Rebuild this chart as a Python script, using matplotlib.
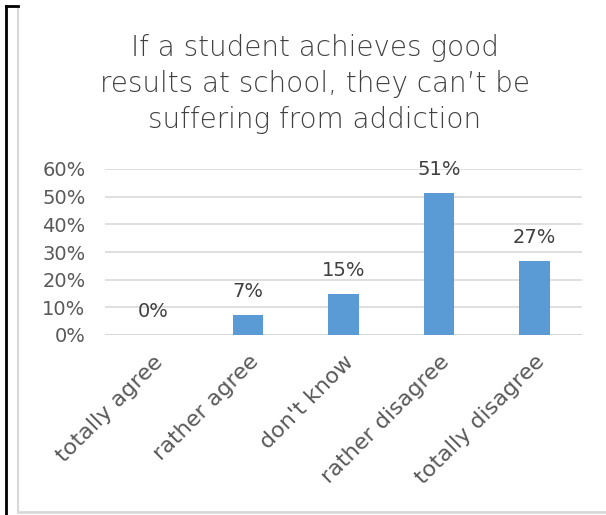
import matplotlib
matplotlib.use("Agg")
import matplotlib.pyplot as plt
from matplotlib.lines import Line2D

categories = ["totally agree", "rather agree", "don't know", "rather disagree", "totally disagree"]
values = [0.0, 7.3, 14.7, 51.2, 26.8]
labels = ["0%", "7%", "15%", "51%", "27%"]
yticks = [0, 10, 20, 30, 40, 50, 60]

title = "If a student achieves good\nresults at school, they can\u2019t be\nsuffering from addiction"

plt.rcParams['font.family'] = ['DejaVu Sans']

W, H = 606, 515
fig = plt.figure(figsize=(W / 100, H / 100), dpi=100)

# plot area in pixels: x 105..582, y 169..335
ax = fig.add_axes([105 / W, 1 - 335 / H, 477 / W, 166 / H])

x = range(len(categories))
ax.bar(x, values, width=0.32, color="#5b9bd5", zorder=3)
ax.set_xlim(-0.5, len(categories) - 0.5)
ax.set_ylim(0, 60)
ax.set_yticks(yticks)
ax.set_yticklabels([f"{t}%" for t in yticks], fontsize=14, color="#595959")
ax.grid(axis="y", color="#d9d9d9", lw=1.2, zorder=0)
ax.set_xticks(list(x))
ax.set_xticklabels(categories, rotation=45, ha="right", va="top",
                   rotation_mode="anchor", fontsize=16, color="#595959")
ax.tick_params(length=0)
ax.tick_params(axis="y", pad=14)
ax.tick_params(axis="x", pad=12)
for s in ax.spines.values():
    s.set_visible(False)
ax.axhline(0, color="#d9d9d9", lw=1.5, zorder=2)

for xi, v, lab in zip(x, values, labels):
    ax.annotate(lab, (xi, v), xytext=(0, 10), textcoords="offset points",
                ha="center", va="bottom", fontsize=14, color="#404040")

fig.text(315 / W, 1 - 84 / H, title, ha="center", va="center",
         fontsize=20, color="#404040", linespacing=1.37, fontweight="light")

# chart frame (grey) and outer black edges
fig.add_artist(Line2D([18 / W, 18 / W], [1 - 512 / H, 1 - 8 / H], color="#d9d9d9", lw=1.5, transform=fig.transFigure))
fig.add_artist(Line2D([18 / W, 1], [1 - 512 / H, 1 - 512 / H], color="#d9d9d9", lw=2, transform=fig.transFigure))
fig.add_artist(Line2D([6 / W, 6 / W], [0, 1 - 6 / H], color="black", lw=2, transform=fig.transFigure))
fig.add_artist(Line2D([6 / W, 18 / W], [1 - 6 / H, 1 - 6 / H], color="black", lw=2, transform=fig.transFigure))

fig.savefig("out.png", dpi=100)
